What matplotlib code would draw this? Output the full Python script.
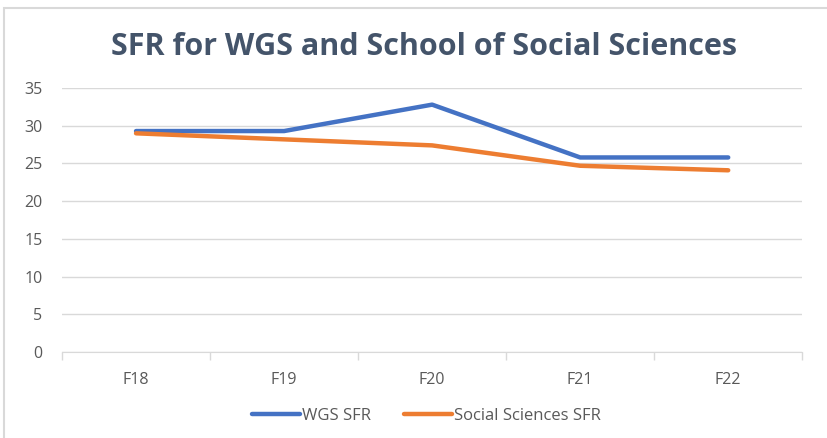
import matplotlib.pyplot as plt
from matplotlib.patches import Rectangle

years = ["F18", "F19", "F20", "F21", "F22"]
wgs_sfr = [29.3, 29.3, 32.8, 25.8, 25.8]
social_sfr = [29.0, 28.2, 27.4, 24.7, 24.1]

plt.rcParams['font.family'] = ['Open Sans', 'DejaVu Sans']

fig = plt.figure(figsize=(8.28, 4.38), dpi=100)
fig.patches.append(Rectangle((0.005, -0.02), 1.0, 1.002, transform=fig.transFigure,
                             fill=False, edgecolor='#D9D9D9', linewidth=1.5))

ax = fig.add_axes([0.0749, 0.196, 0.894, 0.603])
x = range(len(years))
ax.plot(x, wgs_sfr, color='#4472C4', linewidth=3.2, solid_capstyle='round', label='WGS SFR')
ax.plot(x, social_sfr, color='#ED7D31', linewidth=3.2, solid_capstyle='round', label='Social Sciences SFR')

ax.set_xlim(-0.5, len(years) - 0.5)
ax.set_ylim(0, 35)
ax.set_yticks(range(0, 36, 5))
ax.set_xticks(list(x))
ax.set_xticklabels(years)
ax.set_xticks([i - 0.5 for i in range(len(years) + 1)], minor=True)
ax.tick_params(axis='x', which='major', length=0, pad=14, labelsize=11.5, labelcolor='#595959')
ax.tick_params(axis='x', which='minor', length=6, color='#D9D9D9', width=1)
ax.tick_params(axis='y', length=0, pad=14, labelsize=11.5, labelcolor='#595959')
ax.grid(axis='y', color='#D9D9D9', linewidth=1)
for s in ['top', 'right', 'left']:
    ax.spines[s].set_visible(False)
ax.spines['bottom'].set_color('#D9D9D9')
ax.set_axisbelow(True)

fig.text(0.512, 0.893, 'SFR for WGS and School of Social Sciences', ha='center', va='center',
         fontsize=22, fontweight='bold', color='#44546A')

fig.legend(loc='center', bbox_to_anchor=(0.515, 0.05), ncol=2, frameon=False,
           fontsize=12, labelcolor='#595959', handlelength=2.9, handletextpad=0.1,
           columnspacing=2.0)

fig.savefig('out.png', dpi=100)
